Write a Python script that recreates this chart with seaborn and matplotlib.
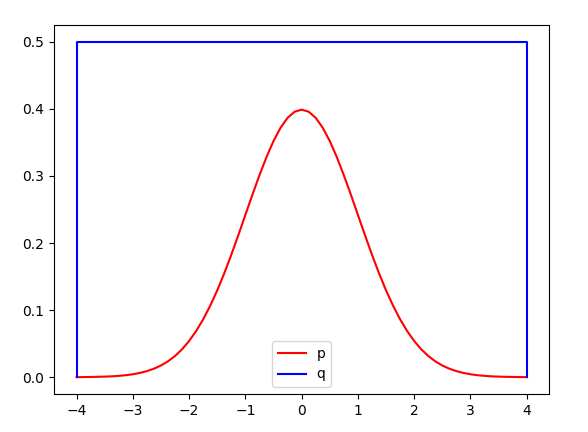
import matplotlib
matplotlib.use("Agg")
import matplotlib.pyplot as plt
import seaborn as sns
import pandas as pd

# p: bell curve at steps of 0.125 (right half, mirrored)
half_x = [0.0, 0.125, 0.25, 0.375, 0.5, 0.625, 0.75, 0.875, 1.0, 1.125, 1.25,
          1.375, 1.5, 1.625, 1.75, 1.875, 2.0, 2.125, 2.25, 2.375, 2.5, 2.625,
          2.75, 2.875, 3.0, 3.125, 3.25, 3.375, 3.5, 3.625, 3.75, 3.875, 4.0]
half_y = [0.3989, 0.3958, 0.3867, 0.3719, 0.3521, 0.3282, 0.3011, 0.2721,
          0.2420, 0.2119, 0.1826, 0.1550, 0.1295, 0.1066, 0.0863, 0.0689,
          0.0540, 0.0417, 0.0317, 0.0237, 0.0175, 0.0127, 0.0091, 0.0064,
          0.0044, 0.0030, 0.0020, 0.0013, 0.0009, 0.0006, 0.0004, 0.0002,
          0.0001]
p_x = [-v for v in half_x[:0:-1]] + half_x
p_y = half_y[:0:-1] + half_y

# q: flat box from -4 to 4
q_x = [-4.0, -4.0, 4.0, 4.0]
q_y = [0.0, 0.5, 0.5, 0.0]

df_p = pd.DataFrame({"x": p_x, "y": p_y})
df_q = pd.DataFrame({"x": q_x, "y": q_y})

fig, ax = plt.subplots(figsize=(5.88, 4.32), dpi=100)
fig.subplots_adjust(left=0.092, right=0.934, top=0.942, bottom=0.088)

sns.lineplot(data=df_p, x="x", y="y", color="red", label="p",
             sort=False, estimator=None, ax=ax)
sns.lineplot(data=df_q, x="x", y="y", color="blue", label="q",
             sort=False, estimator=None, ax=ax)

ax.set_xlabel("")
ax.set_ylabel("")
ax.legend(loc="lower center")

plt.savefig("out.png", dpi=100)
